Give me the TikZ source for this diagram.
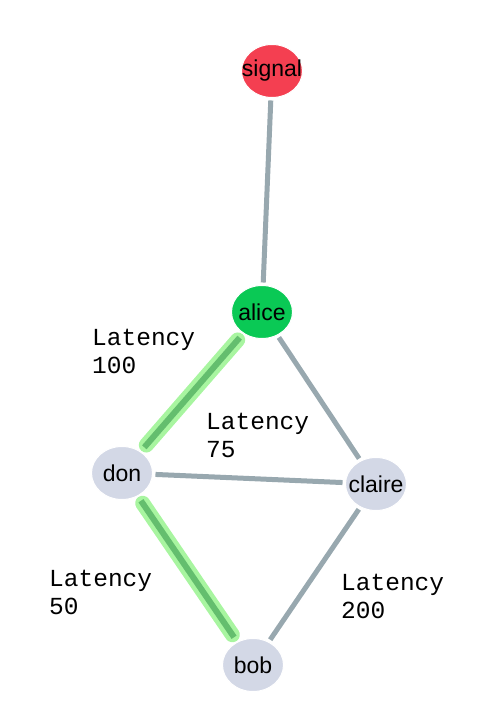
\documentclass[tikz,border=0pt]{standalone}
\usepackage{fontspec}
\setmainfont{Liberation Sans}
\newfontfamily\latfont{Liberation Mono}
\usepackage{xcolor}
\usetikzlibrary{positioning,shapes.geometric}
\definecolor{edgegray}{RGB}{152,168,175}
\definecolor{nodegray}{RGB}{211,216,230}
\definecolor{sigred}{RGB}{244,63,81}
\definecolor{alicegreen}{RGB}{10,201,85}
\definecolor{glowgreen}{RGB}{168,245,160}
\definecolor{pathgreen}{RGB}{100,190,110}
% peer name without widening the ellipse
\newcommand{\pname}[1]{\makebox[0pt]{#1}}

\begin{document}
\begin{tikzpicture}[x=1pt,y=1pt,
  peer/.style={ellipse,fill=nodegray,draw=white,line width=1pt,inner sep=0pt,
               minimum width=61pt,minimum height=53pt,outer sep=3pt,
               font=\fontsize{23}{26}\selectfont},
  link/.style={draw=edgegray,line width=5pt},
  glow/.style={draw=glowgreen,line width=15pt,line cap=round,shorten <=6pt,shorten >=6pt},
  route/.style={draw=pathgreen,line width=6pt,shorten <=3pt,shorten >=3pt},
  latency/.style={font=\latfont\fontsize{24.5}{28}\selectfont,align=left,
                  anchor=base west,inner sep=0pt}
]
\useasboundingbox (0,0) rectangle (482,725);
% peers
\node[peer,fill=sigred] (signal) at (272,654) {\pname{signal}};
\node[peer,fill=alicegreen] (alice) at (262,413) {\pname{alice}};
\node[peer] (don) at (122,252) {\pname{don}};
\node[peer] (claire) at (376,241) {\pname{claire}};
\node[peer] (bob) at (253,60) {\pname{bob}};
% plain links
\draw[link] (signal) -- (alice);
\draw[link] (alice) -- (claire);
\draw[link] (don) -- (claire);
\draw[link] (claire) -- (bob);
\draw[link] (alice) -- (don);
\draw[link] (don) -- (bob);
% chosen route
\draw[glow] (alice) -- (don);
\draw[glow] (don) -- (bob);
\draw[route] (alice) -- (don);
\draw[route] (don) -- (bob);
% latency labels (anchored on the second line)
\node[latency] (lat100) at (92,351) {Latency\\100};
\node[latency] (lat75) at (206,267) {Latency\\75};
\node[latency] (lat50) at (49,110) {Latency\\50};
\node[latency] (lat200) at (341,106) {Latency\\200};
\end{tikzpicture}
\end{document}
